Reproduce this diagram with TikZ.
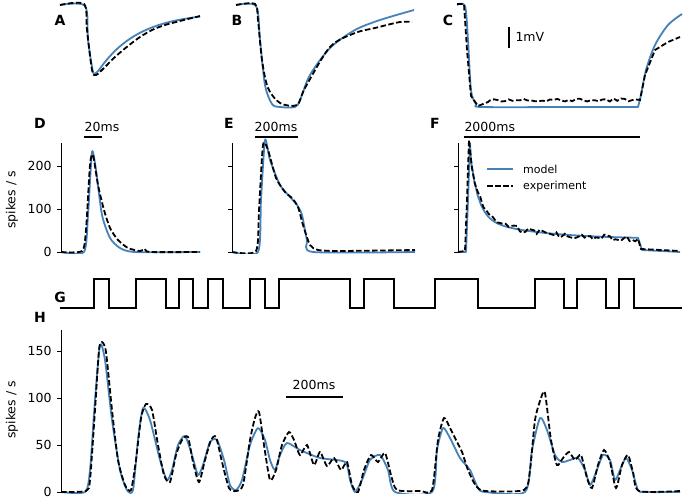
\documentclass[tikz,border=0pt]{standalone}
\usepackage{fontspec}
\setmainfont{DejaVu Sans}
\definecolor{modelblue}{RGB}{70,130,185}

\begin{document}
\begin{tikzpicture}[
    x=1pt, y=-1pt,
    font=\fontsize{12.5}{14}\selectfont,
    model/.style={modelblue, line width=1.8pt, line join=round},
    expt/.style={black, line width=1.8pt, dash pattern=on 5.5pt off 2.5pt},
    axis/.style={black, line width=0.8pt},
    panel/.style={font=\fontsize{14}{16}\selectfont\bfseries},
    scalebar/.style={black, line width=1.4pt}
]
\useasboundingbox (0,0) rectangle (685,503);
\pgfmathsetseed{7}

% --- voltage traces A, B, C ---
\node[panel] (labA) at (60,20) {A};
\node[panel] (labB) at (237,20) {B};
\node[panel] (labC) at (448,20) {C};
\draw[model] plot[smooth, tension=0.5] coordinates {(60,5)(85,6)(88,40)(93,72)(96,73)(99,70)}
  -- plot[domain=99:200, samples=30] (\x,{12+58*exp(-(\x-99)/40)});
\draw[expt] plot[smooth, tension=0.5] coordinates {(60,5)(84,4)(87,30)(92,70)(96,75)(104,68)(115,57)(128,46)(140,37)(152,30)(165,25)(180,21)(200,16)};
\draw[model] plot[smooth, tension=0.5] coordinates {(236,5)(256,6)(260,40)(265,85)(272,104)(280,107)(295,107)(300,100)(310,75)(330,48)(355,30)(380,20)(414,10)};
\draw[expt] plot[smooth, tension=0.5] coordinates {(236,5)(255,4)(258,20)(262,60)(268,88)(280,103)(297,105)(305,88)(330,47)(355,33)(375,28)(400,22)(412,22)};
\draw[model] plot[smooth, tension=0.5] coordinates {(457,5)(465,6)(468,40)(471,90)(476,104)(482,107)(560,107)}
  -- (638,107) -- plot[smooth, tension=0.5] coordinates {(638,107)(641,95)(646,70)(655,45)(668,25)(682,14)};
\draw[expt] (457,4) -- (464,4) -- (467,50) -- (471,96) -- (478,106) -- (488,102)
  -- plot[domain=490:636, samples=40] (\x,{100+1.5*rand}) -- (640,100) -- (645,75) -- (655,50) -- (668,42) -- (680,37);
\draw[scalebar] (509,27) -- (509,48);
\node[anchor=west] (mv) at (512,37) {1mV};

% --- rate responses D, E, F ---
\node[panel] (labD) at (40,123) {D};
\node[panel] (labE) at (229,123) {E};
\node[panel] (labF) at (435,123) {F};
\foreach \ax in {61,232,458}
  \draw[axis] (\ax,143) -- (\ax,252);
\foreach \v/\yy in {0/252,100/209,200/166} {
  \draw[axis] (57,\yy) -- (61,\yy);
  \node[anchor=east] at (55,\yy) {\v};
  \draw[axis] (228,\yy) -- (232,\yy);
  \draw[axis] (454,\yy) -- (458,\yy);
}
\node[rotate=90] (ylabD) at (12,200) {spikes / s};
\begin{scope}
\clip (58,130) rectangle (685,253);
\draw[model] plot[smooth, tension=0.4] coordinates {(61,252)(84,252)(88,215)(92,152)(96,170)(102,215)(110,238)(120,248)(135,252)(200,252)};
\draw[expt] plot[smooth, tension=0.4] coordinates {(61,252)(82,251)(86,230)(90,165)(93,155)(98,185)(104,210)(110,228)(118,240)(128,248)(140,251)(145,249)(150,252)(200,252)};
\draw[model] plot[smooth, tension=0.4] coordinates {(232,252)(258,252)(261,200)(265,140)(270,160)(280,185)(290,197)(297,205)(302,215)(307,240)(313,252)(415,252)};
\draw[expt] plot[smooth, tension=0.4] coordinates {(232,252)(256,251)(259,210)(263,145)(268,150)(276,178)(285,192)(292,198)(298,207)(303,225)(310,245)(318,250)(340,251)(415,250)};
\draw[model] (458,252) -- (466,252) -- (468,200) -- (470,143)
  -- plot[domain=471:638, samples=50] (\x,{252-0.43*(30+150*exp(-(\x-470)/8)+50*exp(-(\x-470)/60))})
  -- (642,250) -- (680,252);
\draw[expt] (458,252) -- (465,251) -- (467,200) -- (469,140)
  -- plot[domain=472:638, samples=60] (\x,{252-0.43*(28+150*exp(-(\x-470)/9)+55*exp(-(\x-470)/60))+3*rand})
  -- (641,249) -- (680,251);
\end{scope}
\draw[scalebar] (84,137) -- (102,137);
\node (tD) at (102,127) {20ms};
\draw[scalebar] (255,137) -- (298,137);
\node (tE) at (276,127) {200ms};
\draw[scalebar] (464,137) -- (640,137);
\node[anchor=west] (tF) at (461,127) {2000ms};
\coordinate (lgA) at (487,169);
\coordinate (lgB) at (487,186);
\draw[model] (lgA) -- ++(26,0) node[anchor=west, black, font=\fontsize{11}{13}\selectfont, xshift=6pt] {model};
\draw[expt] (lgB) -- ++(26,0) node[anchor=west, black, font=\fontsize{11}{13}\selectfont, xshift=6pt] {experiment};

% --- stimulus G ---
\node[panel] (labG) at (60,297) {G};
\draw[black, line width=1.4pt]
  (60,308) foreach \a/\b in {94/109,136/166,179/193,208/223,250/265,279/350,364/394,435/478,535/564,577/606,619/634}
  { -- (\a,308) -- (\a,279) -- (\b,279) -- (\b,308) } -- (682,308);

% --- rate H ---
\node[panel] (labH) at (40,317) {H};
\draw[axis] (61,330) -- (61,492);
\foreach \v/\yy in {0/492,50/445,100/398,150/351} {
  \draw[axis] (57,\yy) -- (61,\yy);
  \node[anchor=east] at (55,\yy) {\v};
}
\node[rotate=90] (ylabH) at (12,410) {spikes / s};
\begin{scope}
\clip (58,320) rectangle (685,493);
\draw[model] plot[smooth, tension=0.4] coordinates {(61,492)(85,492)(90,470)(95,400)(100,345)(105,360)(112,420)(120,470)(127,490)(133,490)(138,440)(143,408)(150,420)(160,460)(167,480)(172,470)(178,445)(185,436)(192,455)(198,475)(203,465)(210,442)(217,440)(224,460)(230,485)(236,490)(242,480)(250,445)(258,428)(265,440)(270,460)(275,470)(280,455)(287,443)(300,450)(320,458)(345,462)(350,480)(355,492)(362,480)(370,460)(380,455)(388,470)(395,492)(432,492)(437,450)(443,428)(450,438)(460,458)(470,470)(478,488)(485,492)(525,492)(532,450)(540,418)(547,430)(555,455)(562,462)(570,460)(578,458)(585,470)(590,485)(595,475)(603,455)(610,460)(615,480)(620,470)(626,458)(632,470)(638,490)(645,492)(680,492)};
\draw[expt] plot[smooth, tension=0.4] coordinates {(61,492)(86,491)(90,480)(95,410)(99,350)(102,342)(106,352)(112,410)(118,460)(125,485)(131,490)(136,460)(141,418)(146,404)(152,410)(158,445)(164,475)(170,482)(176,455)(182,440)(188,437)(193,462)(199,482)(205,460)(211,440)(216,437)(222,462)(229,488)(236,491)(243,485)(250,440)(255,418)(259,412)(264,445)(270,480)(276,470)(282,445)(289,432)(294,440)(300,455)(307,445)(314,465)(320,452)(327,466)(334,458)(341,470)(347,462)(352,485)(358,492)(364,470)(371,455)(378,462)(385,453)(391,475)(397,490)(420,491)(432,490)(438,440)(444,418)(450,428)(456,440)(462,452)(468,470)(476,486)(485,491)(524,490)(530,470)(535,420)(541,398)(545,393)(551,440)(557,465)(563,458)(569,452)(575,460)(581,455)(587,478)(592,488)(598,465)(604,450)(610,462)(616,488)(622,465)(628,455)(633,472)(639,491)(680,491)};
\end{scope}
\draw[scalebar] (286,397) -- (343,397);
\node (tH) at (314,385) {200ms};
\end{tikzpicture}
\end{document}
